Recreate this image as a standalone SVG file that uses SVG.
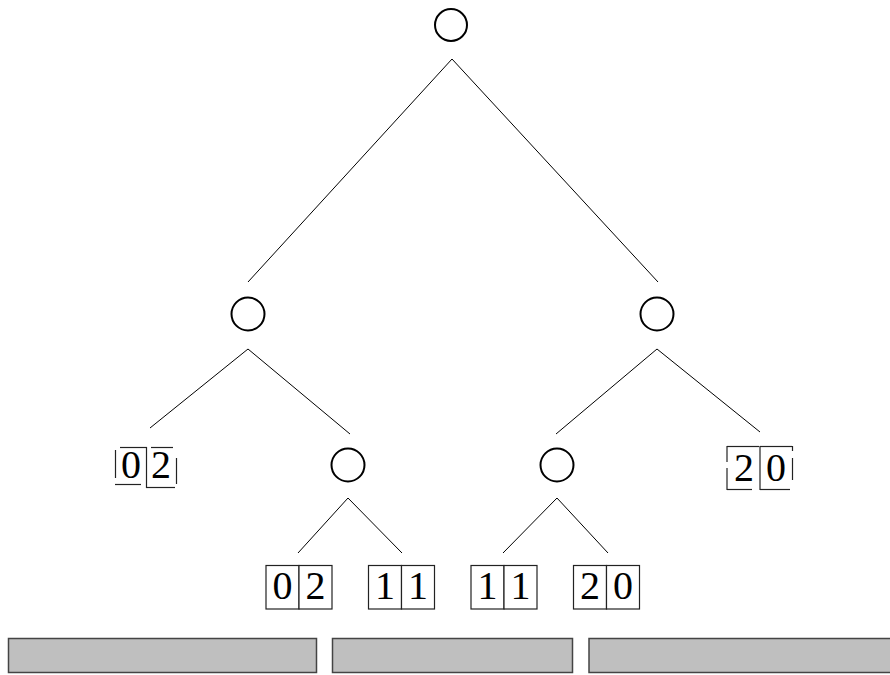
<svg xmlns="http://www.w3.org/2000/svg" width="890" height="675" viewBox="0 0 890 675">
<style>
.node{fill:#fff;stroke:#000;stroke-width:2}
.edge{stroke:#000;stroke-width:1;fill:none}
.cell{fill:#fff;stroke:#222;stroke-width:1.2}
.seg{stroke:#222;stroke-width:1.2;fill:none}
.num{font-family:'Liberation Serif','DejaVu Serif',serif;font-size:40px;fill:#000;text-anchor:middle}
.bar{fill:#bfbfbf;stroke:#444;stroke-width:1.5}
</style>
<rect width="890" height="675" fill="#fff"/>
<g id="connectors">
<line class="edge" x1="452" y1="59" x2="248" y2="282"/>
<line class="edge" x1="452" y1="59" x2="658" y2="282"/>
<line class="edge" x1="248" y1="349" x2="150" y2="428"/>
<line class="edge" x1="248" y1="349" x2="350" y2="434"/>
<line class="edge" x1="657" y1="349" x2="556" y2="434"/>
<line class="edge" x1="657" y1="349" x2="760" y2="432"/>
<line class="edge" x1="348" y1="498" x2="298" y2="553"/>
<line class="edge" x1="348" y1="498" x2="402" y2="553"/>
<line class="edge" x1="557" y1="498" x2="503" y2="553"/>
<line class="edge" x1="557" y1="498" x2="608" y2="553"/>
</g>
<g id="root"><circle class="node" cx="451" cy="25" r="16"/></g>
<g id="n-left"><circle class="node" cx="248" cy="314" r="16.5"/></g>
<g id="n-right"><circle class="node" cx="657" cy="314" r="16.5"/></g>
<g id="n-left-right"><circle class="node" cx="348" cy="465" r="16.5"/></g>
<g id="n-right-left"><circle class="node" cx="557" cy="465" r="16.5"/></g>
<g id="leaf-02-top">
<line class="seg" x1="115.5" y1="450" x2="115.5" y2="478"/>
<line class="seg" x1="120" y1="447.5" x2="147" y2="447.5"/>
<line class="seg" x1="115" y1="484.5" x2="141" y2="484.5"/>
<line class="seg" x1="146.5" y1="447" x2="146.5" y2="488"/>
<line class="seg" x1="151" y1="447.5" x2="173" y2="447.5"/>
<line class="seg" x1="176.5" y1="458" x2="176.5" y2="484"/>
<line class="seg" x1="146" y1="487.5" x2="175" y2="487.5"/>
<text class="num" x="131" y="478">0</text>
<text class="num" x="161" y="478">2</text>
</g>
<g id="leaf-20-top">
<line class="seg" x1="727" y1="446" x2="727" y2="462"/>
<line class="seg" x1="727" y1="468" x2="727" y2="490"/>
<line class="seg" x1="727" y1="446.5" x2="759" y2="446.5"/>
<line class="seg" x1="727" y1="489.5" x2="752" y2="489.5"/>
<line class="seg" x1="760" y1="446" x2="760" y2="490"/>
<line class="seg" x1="760" y1="446.5" x2="792" y2="446.5"/>
<line class="seg" x1="792.5" y1="446" x2="792.5" y2="451"/>
<line class="seg" x1="792.5" y1="458" x2="792.5" y2="480"/>
<line class="seg" x1="760" y1="489.5" x2="790" y2="489.5"/>
<text class="num" x="744" y="481">2</text>
<text class="num" x="776" y="481">0</text>
</g>
<g id="leaf-02">
<rect class="cell" x="266" y="565.5" width="33" height="43.5"/>
<rect class="cell" x="299" y="565.5" width="33" height="43.5"/>
<text class="num" x="282.5" y="599">0</text>
<text class="num" x="315.5" y="599">2</text>
</g>
<g id="leaf-11a">
<rect class="cell" x="368.5" y="565.5" width="33" height="43.5"/>
<rect class="cell" x="401.5" y="565.5" width="33" height="43.5"/>
<text class="num" x="385" y="599">1</text>
<text class="num" x="418" y="599">1</text>
</g>
<g id="leaf-11b">
<rect class="cell" x="471" y="565.5" width="33" height="43.5"/>
<rect class="cell" x="504" y="565.5" width="33" height="43.5"/>
<text class="num" x="487.5" y="599">1</text>
<text class="num" x="520.5" y="599">1</text>
</g>
<g id="leaf-20">
<rect class="cell" x="573.5" y="565.5" width="33" height="43.5"/>
<rect class="cell" x="606.5" y="565.5" width="33" height="43.5"/>
<text class="num" x="590" y="599">2</text>
<text class="num" x="623" y="599">0</text>
</g>
<g id="bars">
<rect class="bar" x="8.5" y="638.5" width="308" height="34"/>
<rect class="bar" x="332.5" y="638.5" width="240" height="34"/>
<rect class="bar" x="589" y="638.5" width="302" height="34"/>
</g>
</svg>
